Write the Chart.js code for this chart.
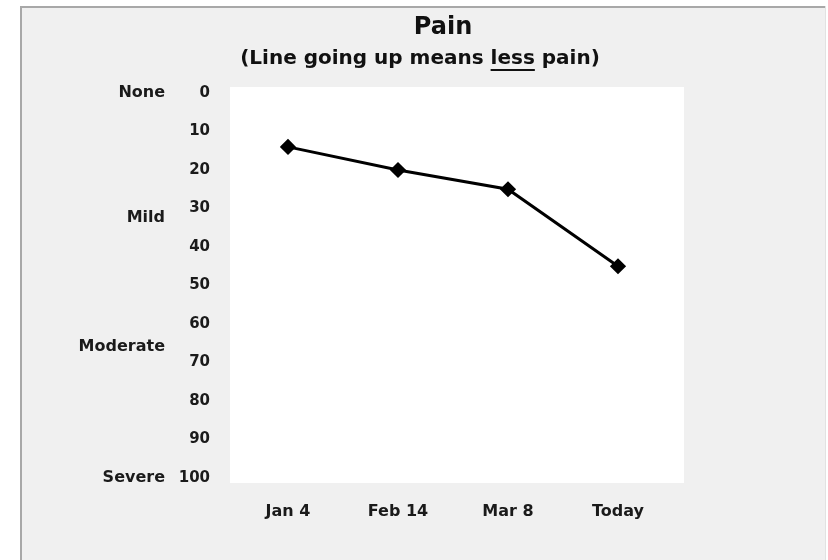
<!DOCTYPE html>
<html>
<head>
<meta charset="utf-8">
<script src="https://cdn.jsdelivr.net/npm/chart.js@4/dist/chart.umd.min.js"></script>
<style>
  html, body { margin: 0; padding: 0; background: #ffffff; }
  #wrap { width: 828px; height: 560px; }
</style>
</head>
<body>
<div id="wrap"><canvas id="painChart" width="828" height="560"></canvas></div>
<script>
// data
var visits = ['Jan 4', 'Feb 14', 'Mar 8', 'Today'];
var painScores = [14, 20, 25, 45];
var severityLabels = ['None', 'Mild', 'Moderate', 'Severe'];
var severityLevels = [0, 32.5, 66, 100];
var titleText = 'Pain';
var subtitleParts = ['(Line going up means ', 'less', ' pain)'];

var FONT = '"DejaVu Sans", sans-serif';

// grey panel + white plot area behind everything
var backgroundPlugin = {
    id: 'panelBackground',
    beforeDraw: function(chart) {
        var ctx = chart.ctx, a = chart.chartArea;
        ctx.save();
        ctx.fillStyle = '#ffffff';
        ctx.fillRect(0, 0, chart.width, chart.height);
        ctx.fillStyle = '#f0f0f0';
        ctx.fillRect(20, 6, 806, chart.height - 6);
        ctx.fillStyle = '#a8a8a8';
        ctx.fillRect(20, 6, 806, 2);
        ctx.fillRect(20, 6, 2, chart.height - 6);
        ctx.fillStyle = '#e2e2e2';
        ctx.fillRect(825, 6, 1, chart.height - 6);
        ctx.fillStyle = '#ffffff';
        ctx.fillRect(a.left - 3, a.top - 6, (a.right - a.left) + 14, (a.bottom - a.top) + 11);
        ctx.restore();
    }
};

// title, subtitle with underlined word, and severity words next to the y axis
var textPlugin = {
    id: 'painText',
    afterDraw: function(chart) {
        var ctx = chart.ctx;
        var y = chart.scales.y;
        ctx.save();
        ctx.fillStyle = '#111111';
        ctx.textBaseline = 'middle';
        ctx.textAlign = 'center';
        ctx.font = 'bold 24px ' + FONT;
        ctx.fillText(titleText, 443, 28);

        ctx.font = 'bold 20px ' + FONT;
        var widths = subtitleParts.map(function(p) { return ctx.measureText(p).width; });
        var total = widths[0] + widths[1] + widths[2];
        var x = 420 - total / 2;
        ctx.textAlign = 'left';
        for (var i = 0; i < subtitleParts.length; i++) {
            ctx.fillText(subtitleParts[i], x, 59);
            if (i === 1) {
                ctx.fillRect(x, 69, widths[i], 2);
            }
            x += widths[i];
        }

        ctx.font = 'bold 16px ' + FONT;
        ctx.textAlign = 'right';
        ctx.fillStyle = '#1a1a1a';
        for (var j = 0; j < severityLabels.length; j++) {
            ctx.fillText(severityLabels[j], 165, y.getPixelForValue(severityLevels[j]));
        }
        ctx.restore();
    }
};

var ctx = document.getElementById('painChart').getContext('2d');
var painChart = new Chart(ctx, {
    type: 'line',
    data: {
        labels: visits,
        datasets: [{
            label: 'Pain',
            data: painScores,
            borderColor: '#000000',
            backgroundColor: '#000000',
            borderWidth: 3,
            pointStyle: 'rectRot',
            pointRadius: 6,
            pointHoverRadius: 6,
            tension: 0
        }]
    },
    options: {
        responsive: false,
        animation: false,
        layout: { padding: { left: 0, right: 155, top: 93, bottom: 32 } },
        plugins: {
            legend: { display: false },
            tooltip: { enabled: false },
            title: { display: false }
        },
        scales: {
            x: {
                offset: true,
                grid: { display: false, drawTicks: false, offset: true },
                border: { display: false },
                afterFit: function(scale) { scale.height = 50; },
                ticks: {
                    padding: 24,
                    color: '#1a1a1a',
                    font: { family: FONT, size: 16, weight: 'bold' }
                }
            },
            y: {
                reverse: true,
                min: 0,
                max: 100,
                grid: { display: false, drawTicks: false },
                border: { display: false },
                afterFit: function(scale) { scale.width = 233; },
                ticks: {
                    stepSize: 10,
                    padding: 23,
                    color: '#1a1a1a',
                    font: { family: FONT, size: 15, weight: 'bold' }
                }
            }
        }
    },
    plugins: [backgroundPlugin, textPlugin]
});
</script>
</body>
</html>
